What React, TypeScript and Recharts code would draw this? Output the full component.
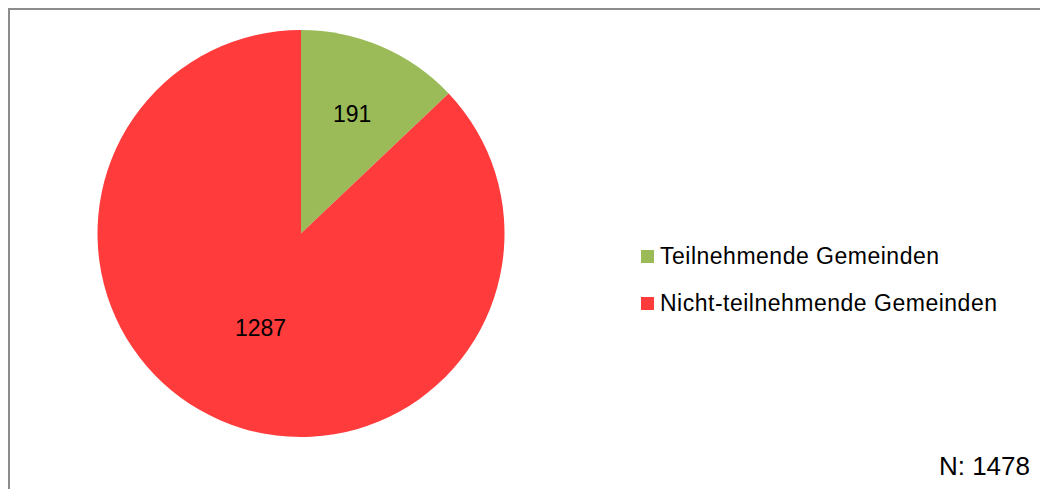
import { PieChart, Pie, Cell, Legend } from 'recharts'

const CATEGORIES = ['Teilnehmende Gemeinden', 'Nicht-teilnehmende Gemeinden']
const VALUES = [191, 1287]
const TOTAL_LABEL = 'N: 1478'

const COLORS = ['#9BBB59', '#FF3B3B']
// Excel puts the labels at different distances from the centre
const LABEL_RADIUS = [0.637, 0.504]
const FONT = '"Liberation Sans", Arial, sans-serif'
const RADIAN = Math.PI / 180

const data = CATEGORIES.map((name, i) => ({ name, value: VALUES[i] }))

function renderLabel(props: any) {
  const { cx, cy, midAngle, outerRadius, index, value } = props
  const r = outerRadius * LABEL_RADIUS[index]
  const x = cx + r * Math.cos(-midAngle * RADIAN)
  const y = cy + r * Math.sin(-midAngle * RADIAN)
  return (
    <text x={x} y={y} fill="#000" fontSize={23} fontFamily={FONT} textAnchor="middle" dominantBaseline="central">
      {value}
    </text>
  )
}

// legend in data order (recharts would sort it by name)
function renderLegend() {
  return (
    <div style={{ fontFamily: FONT, fontSize: 23, letterSpacing: 0.5, color: '#000' }}>
      {CATEGORIES.map((name, i) => (
        <div key={`legend-${i}`} style={{ display: 'flex', alignItems: 'center', height: 47 }}>
          <span style={{ display: 'inline-block', width: 13, height: 13, background: COLORS[i], marginRight: 6 }} />
          <span style={{ whiteSpace: 'nowrap' }}>{name}</span>
        </div>
      ))}
    </div>
  )
}

export default function App() {
  return (
    <>
      <style>{'html,body{margin:0;overflow:hidden;}'}</style>
      <div
        style={{
          position: 'relative',
          marginLeft: 8,
          marginTop: 8,
          width: 1030,
          height: 479,
          borderTop: '2px solid #8c8c8c',
          borderLeft: '2px solid #8c8c8c',
          background: '#fff',
          overflow: 'hidden',
        }}
      >
        <PieChart width={1030} height={479} margin={{ top: 0, right: 0, bottom: 0, left: 0 }}>
          <Pie
            data={data}
            dataKey="value"
            nameKey="name"
            cx={291}
            cy={223.5}
            outerRadius={203.5}
            startAngle={90}
            endAngle={-270}
            stroke="none"
            labelLine={false}
            label={renderLabel}
            isAnimationActive={false}
          >
            {data.map((entry, index) => (
              <Cell key={`cell-${index}`} fill={COLORS[index]} />
            ))}
          </Pie>
          <Legend
            content={renderLegend}
            layout="vertical"
            wrapperStyle={{ left: 631, top: 223, width: 420 }}
          />
        </PieChart>
        <div
          style={{
            position: 'absolute',
            right: 10,
            top: 441,
            fontFamily: FONT,
            fontSize: 26,
            color: '#000',
            whiteSpace: 'nowrap',
          }}
        >
          {TOTAL_LABEL}
        </div>
      </div>
    </>
  )
}
